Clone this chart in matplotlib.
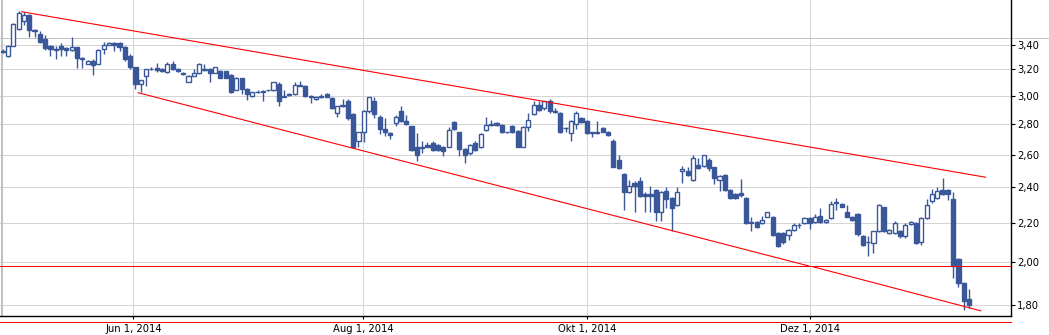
import numpy as np
import matplotlib.pyplot as plt
from matplotlib.ticker import NullLocator, NullFormatter

# daily candles, apr 2014 - dec 2014
opens = [3.34, 3.31, 3.39, 3.53, 3.60, 3.65, 3.52, 3.49, 3.45, 3.39,
         3.36, 3.39, 3.37, 3.355, 3.38, 3.29, 3.245, 3.27, 3.245, 3.36,
         3.40, 3.415, 3.415, 3.38, 3.31, 3.215, 3.09, 3.145, 3.20, 3.21,
         3.20, 3.18, 3.245, 3.20, 3.175, 3.105, 3.15, 3.17, 3.20, 3.20,
         3.175, 3.19, 3.185, 3.16, 3.045, 3.13, 3.05, 3.00, 3.03, 3.025,
         3.04, 3.04, 3.09, 2.995, 3.01, 3.01, 3.08, 3.075, 2.995, 2.975,
         3.00, 3.015, 2.985, 2.88, 2.925, 2.96, 2.87, 2.69, 2.745, 2.89,
         2.96, 2.85, 2.77, 2.74, 2.81, 2.89, 2.82, 2.785, 2.65, 2.64,
         2.66, 2.675, 2.66, 2.65, 2.65, 2.815, 2.745, 2.635, 2.61, 2.675,
         2.65, 2.76, 2.80, 2.81, 2.795, 2.745, 2.79, 2.755, 2.65, 2.78,
         2.87, 2.935, 2.91, 2.96, 2.89, 2.88, 2.775, 2.74, 2.80, 2.845,
         2.82, 2.745, 2.74, 2.775, 2.75, 2.69, 2.565, 2.48, 2.37, 2.425,
         2.44, 2.36, 2.36, 2.385, 2.26, 2.38, 2.34, 2.30, 2.495, 2.50,
         2.445, 2.535, 2.53, 2.565, 2.52, 2.445, 2.475, 2.385, 2.36, 2.365,
         2.34, 2.205, 2.205, 2.20, 2.235, 2.235, 2.145, 2.145, 2.135, 2.165,
         2.19, 2.20, 2.225, 2.205, 2.24, 2.205, 2.225, 2.31, 2.305, 2.26,
         2.235, 2.25, 2.13, 2.10, 2.095, 2.155, 2.285, 2.145, 2.145, 2.16,
         2.13, 2.195, 2.20, 2.10, 2.225, 2.32, 2.34, 2.385, 2.385, 2.33,
         2.015, 1.90, 1.83]
highs = [3.36, 3.40, 3.58, 3.69, 3.68, 3.66, 3.53, 3.51, 3.48, 3.40,
         3.39, 3.41, 3.38, 3.46, 3.38, 3.30, 3.275, 3.28, 3.36, 3.42,
         3.425, 3.42, 3.42, 3.39, 3.32, 3.22, 3.12, 3.20, 3.215, 3.25,
         3.21, 3.26, 3.27, 3.21, 3.18, 3.16, 3.20, 3.25, 3.245, 3.21,
         3.22, 3.195, 3.19, 3.165, 3.14, 3.135, 3.06, 3.03, 3.04, 3.04,
         3.045, 3.10, 3.10, 3.04, 3.02, 3.10, 3.11, 3.08, 3.005, 3.00,
         3.01, 3.02, 2.99, 2.93, 2.98, 2.975, 2.88, 2.75, 2.90, 2.99,
         2.99, 2.86, 2.84, 2.75, 2.86, 2.93, 2.86, 2.79, 2.74, 2.69,
         2.68, 2.69, 2.67, 2.655, 2.78, 2.82, 2.75, 2.64, 2.67, 2.685,
         2.74, 2.85, 2.83, 2.815, 2.80, 2.75, 2.795, 2.76, 2.79, 2.88,
         2.96, 2.96, 2.965, 2.975, 2.91, 2.885, 2.78, 2.825, 2.89, 2.85,
         2.825, 2.75, 2.82, 2.78, 2.755, 2.70, 2.60, 2.485, 2.445, 2.44,
         2.46, 2.37, 2.41, 2.39, 2.38, 2.40, 2.345, 2.40, 2.53, 2.525,
         2.60, 2.58, 2.60, 2.58, 2.525, 2.475, 2.48, 2.39, 2.365, 2.45,
         2.345, 2.23, 2.21, 2.24, 2.26, 2.24, 2.15, 2.15, 2.17, 2.20,
         2.20, 2.235, 2.23, 2.25, 2.28, 2.22, 2.32, 2.34, 2.31, 2.30,
         2.24, 2.255, 2.135, 2.13, 2.16, 2.305, 2.29, 2.17, 2.21, 2.165,
         2.20, 2.21, 2.205, 2.23, 2.33, 2.39, 2.40, 2.455, 2.39, 2.37,
         2.02, 1.905, 1.875]
lows = [3.33, 3.30, 3.39, 3.52, 3.57, 3.46, 3.46, 3.41, 3.355, 3.31,
        3.28, 3.31, 3.31, 3.35, 3.21, 3.21, 3.24, 3.16, 3.24, 3.32,
        3.395, 3.345, 3.345, 3.27, 3.20, 3.05, 3.03, 3.07, 3.195, 3.18,
        3.18, 3.17, 3.195, 3.18, 3.16, 3.10, 3.145, 3.165, 3.19, 3.105,
        3.17, 3.13, 3.13, 3.02, 3.04, 3.01, 2.97, 2.99, 3.02, 2.96,
        3.035, 3.035, 2.925, 2.99, 3.00, 3.005, 3.07, 2.99, 2.95, 2.97,
        2.985, 2.99, 2.905, 2.85, 2.92, 2.83, 2.64, 2.645, 2.68, 2.88,
        2.84, 2.735, 2.72, 2.70, 2.79, 2.815, 2.795, 2.62, 2.56, 2.61,
        2.645, 2.625, 2.625, 2.59, 2.645, 2.76, 2.59, 2.545, 2.60, 2.62,
        2.64, 2.755, 2.79, 2.79, 2.74, 2.74, 2.74, 2.645, 2.645, 2.755,
        2.86, 2.89, 2.90, 2.88, 2.875, 2.74, 2.745, 2.685, 2.77, 2.81,
        2.735, 2.715, 2.735, 2.745, 2.72, 2.52, 2.51, 2.27, 2.365, 2.26,
        2.345, 2.26, 2.26, 2.21, 2.21, 2.28, 2.16, 2.295, 2.425, 2.47,
        2.44, 2.51, 2.525, 2.50, 2.42, 2.38, 2.38, 2.33, 2.33, 2.345,
        2.195, 2.16, 2.175, 2.195, 2.23, 2.13, 2.075, 2.09, 2.11, 2.16,
        2.175, 2.195, 2.17, 2.20, 2.20, 2.20, 2.22, 2.27, 2.285, 2.23,
        2.21, 2.13, 2.08, 2.03, 2.045, 2.15, 2.15, 2.14, 2.14, 2.12,
        2.12, 2.19, 2.09, 2.085, 2.22, 2.31, 2.335, 2.355, 2.325, 1.925,
        1.88, 1.78, 1.79]
closes = [3.345, 3.39, 3.575, 3.67, 3.65, 3.52, 3.51, 3.42, 3.37, 3.36,
          3.355, 3.36, 3.355, 3.38, 3.29, 3.28, 3.27, 3.235, 3.355, 3.40,
          3.415, 3.40, 3.38, 3.28, 3.215, 3.085, 3.12, 3.20, 3.20, 3.195,
          3.185, 3.24, 3.20, 3.185, 3.165, 3.145, 3.175, 3.24, 3.195, 3.17,
          3.215, 3.135, 3.135, 3.03, 3.13, 3.05, 3.01, 3.025, 3.025, 3.035,
          3.04, 3.10, 2.96, 3.00, 3.005, 3.08, 3.075, 3.00, 3.00, 2.995,
          2.99, 2.995, 2.91, 2.925, 2.935, 2.84, 2.65, 2.75, 2.89, 2.99,
          2.87, 2.765, 2.745, 2.73, 2.85, 2.82, 2.80, 2.63, 2.595, 2.65,
          2.65, 2.63, 2.63, 2.625, 2.76, 2.765, 2.635, 2.595, 2.66, 2.63,
          2.735, 2.795, 2.795, 2.795, 2.745, 2.745, 2.745, 2.65, 2.78, 2.83,
          2.935, 2.90, 2.96, 2.89, 2.885, 2.745, 2.775, 2.82, 2.88, 2.815,
          2.74, 2.74, 2.75, 2.75, 2.73, 2.525, 2.515, 2.37, 2.41, 2.41,
          2.35, 2.35, 2.35, 2.26, 2.375, 2.335, 2.28, 2.37, 2.51, 2.475,
          2.58, 2.515, 2.60, 2.515, 2.455, 2.47, 2.385, 2.34, 2.34, 2.355,
          2.20, 2.20, 2.18, 2.215, 2.26, 2.135, 2.08, 2.10, 2.165, 2.19,
          2.19, 2.225, 2.20, 2.235, 2.205, 2.215, 2.305, 2.315, 2.29, 2.235,
          2.215, 2.14, 2.085, 2.10, 2.155, 2.30, 2.155, 2.165, 2.20, 2.13,
          2.19, 2.205, 2.095, 2.225, 2.30, 2.36, 2.38, 2.36, 2.36, 1.98,
          1.90, 1.82, 1.80]

x_tick_pos = [24.6, 67.9, 110.1, 152.0]
x_labels = ['Jun 1, 2014', 'Aug 1, 2014', 'Okt 1, 2014', 'Dez 1, 2014']
y_ticks = [1.8, 2.0, 2.2, 2.4, 2.6, 2.8, 3.0, 3.2, 3.4]
y_labels = ['1,80', '2,00', '2,20', '2,40', '2,60', '2,80', '3,00', '3,20', '3,40']

# trend lines drawn on the chart (x = candle index, y = price)
upper_x = [3.6, 185.1]
upper_y = [3.683, 2.46]
lower_x = [25.5, 151.85]
lower_y = [3.023, 1.981]
lower2_x = [152.5, 184.2]
lower2_y = [1.978, 1.776]
support = 1.98
bottom_line = 1.727
top_line = 3.452

blue = '#3a5899'
grid_col = '#d4d4d4'

fig = plt.figure(figsize=(10.49, 3.35), dpi=100)
ax = fig.add_axes([0, 19 / 335, 1011 / 1049, 316 / 335])

o = np.array(opens)
c = np.array(closes)
x = np.arange(len(o))
up = c >= o

# wicks
ax.vlines(x, lows, highs, color=blue, lw=1.0, zorder=3)
# bodies
lo = np.minimum(o, c)
hi = np.maximum(o, c)
ax.bar(x[up], (hi - lo)[up], bottom=lo[up], width=0.78, color='white',
       edgecolor=blue, linewidth=1.0, zorder=4)
ax.bar(x[~up], (hi - lo)[~up], bottom=lo[~up], width=0.78, color=blue,
       edgecolor=blue, linewidth=1.0, zorder=4)

# trend lines
ax.plot(upper_x, upper_y, color='red', lw=0.8, zorder=5)
ax.plot(lower_x, lower_y, color='red', lw=0.8, zorder=5)
ax.plot(lower2_x, lower2_y, color='red', lw=0.8, zorder=5)

# horizontal lines, crisp 1px
kw = dict(color='red', lw=0.72, zorder=5, antialiased=False)
ax.axhline(support, **kw)
ax.axhline(bottom_line, clip_on=False, **kw)
ax.axhline(top_line, xmin=0, xmax=1049 / 1011, color='#c4c4c4', lw=0.72,
           clip_on=False, zorder=1, antialiased=False)

ax.set_yscale('log')
ax.set_ylim(1.7536, 3.79)
ax.set_xlim(-0.51, 189.9)
ax.axvline(-0.13, color='#c0c0c0', lw=1.4, zorder=1, antialiased=False)

ax.set_yticks(y_ticks)
ax.set_yticklabels(y_labels)
ax.yaxis.set_minor_locator(NullLocator())
ax.yaxis.set_minor_formatter(NullFormatter())
ax.yaxis.tick_right()
ax.set_xticks(x_tick_pos)
ax.set_xticklabels(x_labels)

ax.grid(True, color=grid_col, lw=0.72, zorder=0, antialiased=False)
ax.set_axisbelow(True)

for s in ['left', 'top']:
    ax.spines[s].set_visible(False)
ax.spines['right'].set_linewidth(1.0)
ax.spines['bottom'].set_linewidth(1.0)

ax.tick_params(axis='y', length=3, width=0.8, pad=1.5, labelsize=7.2)
ax.tick_params(axis='x', length=2.5, width=0.8, pad=3, labelsize=7.2)

fig.savefig('out.png', dpi=100)
